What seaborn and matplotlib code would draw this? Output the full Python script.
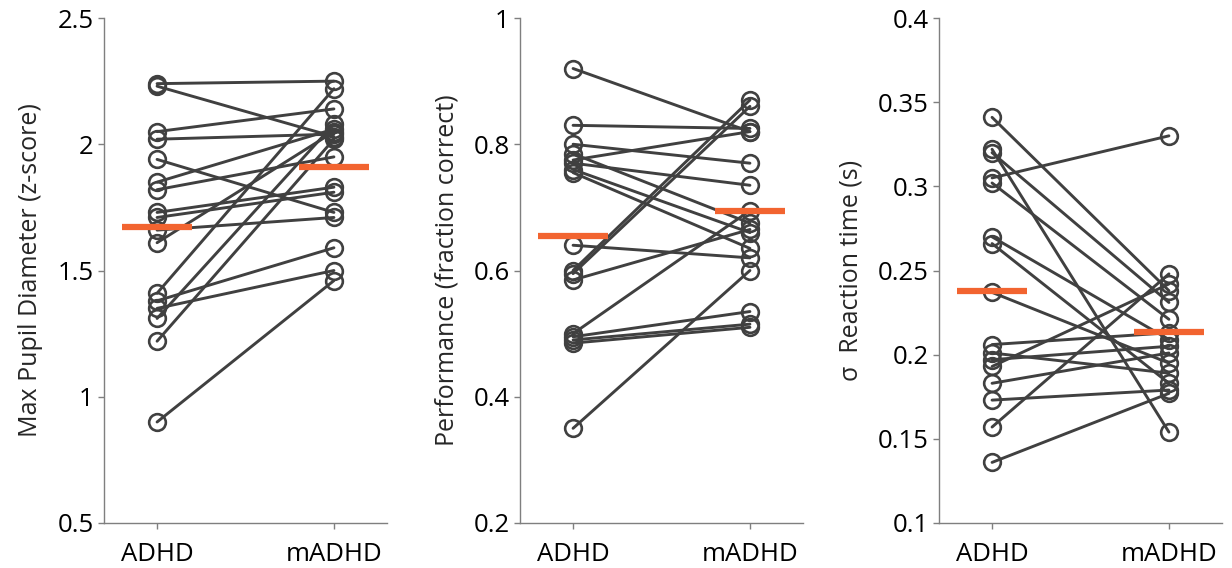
import numpy as np
import pandas as pd
import matplotlib
matplotlib.use("Agg")
import matplotlib.pyplot as plt
import seaborn as sns

# ---------------- data ----------------
conditions = ["ADHD", "mADHD"]

pupil_adhd = [2.24, 2.23, 2.05, 2.02, 1.94, 1.85, 1.82, 1.73, 1.71, 1.66, 1.61,
              1.41, 1.38, 1.35, 1.31, 1.22, 0.90]
pupil_madhd = [2.25, 2.03, 2.14, 2.04, 1.73, 2.06, 1.95, 1.83, 1.81, 1.71, 2.05,
               2.22, 1.59, 1.50, 2.08, 2.02, 1.46]

perf_adhd = [0.92, 0.83, 0.80, 0.785, 0.775, 0.77, 0.76, 0.755, 0.64, 0.60, 0.595,
             0.585, 0.50, 0.495, 0.49, 0.485, 0.35]
perf_madhd = [0.82, 0.825, 0.77, 0.675, 0.82, 0.735, 0.66, 0.635, 0.62, 0.87, 0.86,
              0.665, 0.695, 0.535, 0.515, 0.51, 0.60]

rt_adhd = [0.341, 0.322, 0.320, 0.305, 0.302, 0.270, 0.266, 0.237, 0.206, 0.201,
           0.197, 0.193, 0.183, 0.173, 0.157, 0.136]
rt_madhd = [0.238, 0.154, 0.231, 0.330, 0.221, 0.209, 0.183, 0.195, 0.213, 0.189,
            0.205, 0.242, 0.201, 0.179, 0.248, 0.177]

ylabels = ["Max Pupil Diameter (z-score)", "Performance (fraction correct)",
           "σ  Reaction time (s)"]
yticks = [[0.5, 1, 1.5, 2, 2.5],
          [0.2, 0.4, 0.6, 0.8, 1],
          [0.1, 0.15, 0.2, 0.25, 0.3, 0.35, 0.4]]

panels = [(pupil_adhd, pupil_madhd), (perf_adhd, perf_madhd), (rt_adhd, rt_madhd)]

# ---------------- style ----------------
sns.set_style("ticks")
plt.rcParams["font.family"] = ["Open Sans", "DejaVu Sans"]
plt.rcParams["font.size"] = 18

GRAY = "#404040"
ORANGE = "#F26430"
SPINE = "#7f7f7f"

fig = plt.figure(figsize=(12.32, 5.68), dpi=100)
lefts = [104 / 1232, 520 / 1232, 939 / 1232]
bottom = 1 - 523 / 568
height = (523 - 18) / 568
width = 283 / 1232

for i, ((a, b), lab, ticks) in enumerate(zip(panels, ylabels, yticks)):
    ax = fig.add_axes([lefts[i], bottom, width, height])
    n = len(a)
    df = pd.DataFrame({
        "subject": list(range(n)) * 2,
        "condition": [conditions[0]] * n + [conditions[1]] * n,
        "value": list(a) + list(b),
    })
    sns.lineplot(data=df, x="condition", y="value", units="subject",
                 estimator=None, color=GRAY, linewidth=2.1, marker="o",
                 markersize=12, markerfacecolor="none",
                 markeredgecolor=GRAY, markeredgewidth=1.9, ax=ax,
                 legend=False, sort=False)
    means = [np.mean(a), np.mean(b)]
    for j, m in enumerate(means):
        ax.hlines(m, j - 0.2, j + 0.2, color=ORANGE, linewidth=4.5, zorder=5)

    ax.set_xlim(-0.3, 1.3)
    ax.set_ylim(ticks[0], ticks[-1])
    ax.set_yticks(ticks, [f"{t:g}" for t in ticks])
    ax.set_xticks([0, 1], conditions)
    ax.set_xlabel("")
    ax.set_ylabel(lab, fontsize=18, labelpad=10)
    for s in ["top", "right"]:
        ax.spines[s].set_visible(False)
    for s in ["left", "bottom"]:
        ax.spines[s].set_color(SPINE)
        ax.spines[s].set_linewidth(1.0)
    ax.tick_params(axis="both", colors=SPINE, labelcolor="black",
                   length=4, width=1.0, labelsize=18.5, direction="out")
    ax.tick_params(axis="x", pad=10)

fig.savefig("out.png", dpi=100)
